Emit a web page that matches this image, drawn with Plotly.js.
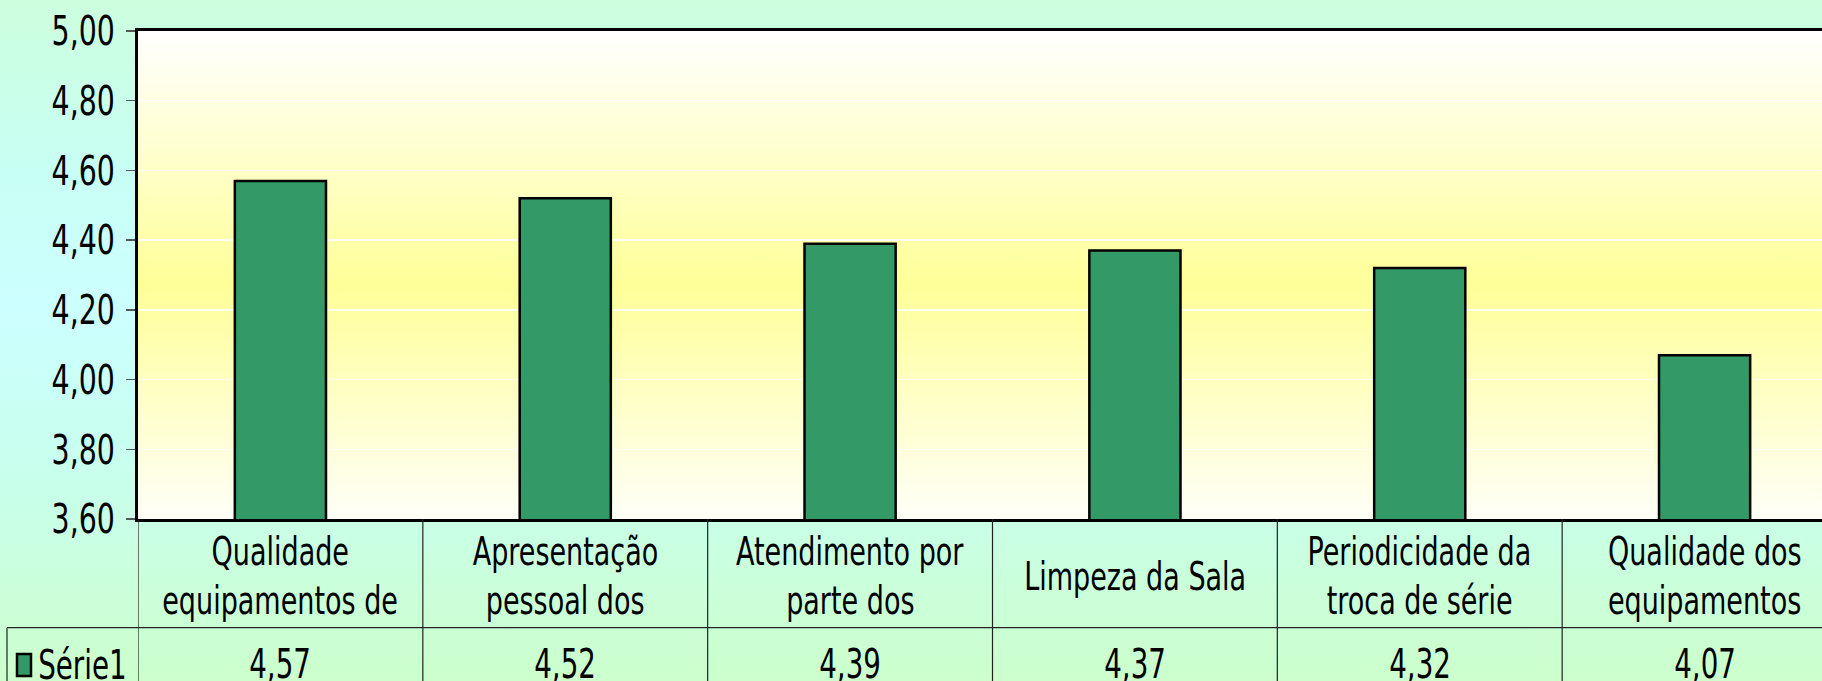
<!DOCTYPE html>
<html>
<head>
<meta charset="utf-8">
<script src="https://cdn.plot.ly/plotly-3.0.1.min.js"></script>
<style>
  html, body { margin: 0; padding: 0; overflow: hidden; width: 1822px; height: 681px; }
  #chart {
    width: 1849px; height: 681px;
    background: linear-gradient(to bottom, #CCFFDD 0%, #C8FFF4 25%, #CCFFFF 45%, #C8FFEC 70%, #CCFFCC 100%);
  }
</style>
</head>
<body>
<div id="chart"></div>
<script>
// ---- data ----
const seriesName = "Série1";
const categories = [
  "Qualidade<br>equipamentos de",
  "Apresentação<br>pessoal dos",
  "Atendimento por<br>parte dos",
  "Limpeza da Sala",
  "Periodicidade da<br>troca de série",
  "Qualidade dos<br>equipamentos"
];
const values = [4.57, 4.52, 4.39, 4.37, 4.32, 4.07];
const yTickVals = [3.6, 3.8, 4.0, 4.2, 4.4, 4.6, 4.8, 5.0];

// ---- layout geometry (pixels) ----
const W = 1849, H = 681;
const M = {l: 138, r: 2, t: 31, b: 162};
const PW = W - M.l - M.r, PH = H - M.t - M.b;
const plotBottom = H - M.b;
const py = p => (plotBottom - p) / PH;   // pixel y -> paper y
const px = p => (p - M.l) / PW;          // pixel x -> paper x

const FONT = "'DejaVu Sans Condensed', 'DejaVu Sans', sans-serif";
const TEXT_SCALE_X = 0.77;
const xIdx = categories.map((c, i) => i);

const trace = {
  type: 'bar',
  name: seriesName,
  x: xIdx,
  y: values,
  width: 0.32,
  marker: {color: '#339966', line: {color: '#000000', width: 2.5}},
  hoverinfo: 'skip'
};

const annotations = [];
const shapes = [];
const rowTop = plotBottom, rowMid = 627.7, catCenter = 576, lineGap = 48.3, valCenter = 664;

categories.forEach((c, i) => {
  const lines = c.split('<br>');
  lines.forEach((ln, j) => {
    const yc = catCenter + (j - (lines.length - 1) / 2) * lineGap;
    annotations.push({
      x: i, xref: 'x', y: py(yc), yref: 'paper',
      text: ln, showarrow: false, xanchor: 'center', yanchor: 'middle',
      font: {family: FONT, size: 39, color: '#000'}
    });
  });
  annotations.push({
    x: i, xref: 'x', y: py(valCenter), yref: 'paper',
    text: values[i].toFixed(2).replace('.', ','), showarrow: false,
    xanchor: 'center', yanchor: 'middle',
    font: {family: FONT, size: 40, color: '#000'}
  });
});

// legend label cell
annotations.push({
  x: px(82), xref: 'paper', y: py(665), yref: 'paper',
  text: seriesName, showarrow: false, xanchor: 'center', yanchor: 'middle',
  font: {family: FONT, size: 40, color: '#000'}
});
shapes.push({
  type: 'rect', xref: 'paper', yref: 'paper',
  x0: px(17), x1: px(31), y0: py(676), y1: py(654),
  fillcolor: '#339966', line: {color: '#000', width: 2.5}
});

// table lines
const lineStyle = {color: '#222', width: 1.2};
for (let k = 0; k <= categories.length; k++) {
  shapes.push({
    type: 'line', xref: 'x', yref: 'paper',
    x0: k - 0.5, x1: k - 0.5, y0: py(rowTop), y1: py(700),
    line: lineStyle
  });
}
shapes.push({
  type: 'line', xref: 'paper', yref: 'paper',
  x0: px(7), x1: 1.01, y0: py(rowMid), y1: py(rowMid), line: lineStyle
});
shapes.push({
  type: 'line', xref: 'paper', yref: 'paper',
  x0: px(7), x1: px(7), y0: py(rowMid), y1: py(700), line: lineStyle
});

// plot area gradient
const svgGrad = '<svg xmlns="http://www.w3.org/2000/svg" width="10" height="100" preserveAspectRatio="none">' +
  '<defs><linearGradient id="g" x1="0" y1="0" x2="0" y2="1">' +
  '<stop offset="0" stop-color="#FFFFFF"/><stop offset="0.52" stop-color="#FFFF99"/><stop offset="1" stop-color="#FFFFF8"/>' +
  '</linearGradient></defs><rect width="10" height="100" fill="url(#g)"/></svg>';

const layout = {
  width: W, height: H,
  margin: M,
  paper_bgcolor: 'rgba(0,0,0,0)',
  plot_bgcolor: 'rgba(0,0,0,0)',
  separators: ',.',
  showlegend: false,
  bargap: 0,
  xaxis: {
    range: [-0.5, categories.length - 0.5],
    showticklabels: false, ticks: '',
    showgrid: false, zeroline: false,
    showline: true, linecolor: '#000', linewidth: 3, mirror: true,
    fixedrange: true
  },
  yaxis: {
    range: [3.6, 5.0],
    tickvals: yTickVals, tickformat: '.2f',
    ticks: 'outside', ticklen: 9, tickwidth: 1.5, tickcolor: '#555',
    ticklabelstandoff: 3,
    tickfont: {family: FONT, size: 41, color: '#000'},
    showgrid: true, gridcolor: 'rgba(255,255,255,0.85)', gridwidth: 1.5,
    zeroline: false,
    showline: true, linecolor: '#000', linewidth: 3,
    fixedrange: true
  },
  images: [{
    source: 'data:image/svg+xml;charset=utf-8,' + encodeURIComponent(svgGrad),
    xref: 'paper', yref: 'paper', x: 0, y: 1, sizex: 1, sizey: 1,
    xanchor: 'left', yanchor: 'top', sizing: 'stretch', layer: 'below'
  }],
  annotations: annotations,
  shapes: shapes
};

// narrow the text horizontally around its anchor point (style only)
function condenseText(gd) {
  gd.querySelectorAll('.ytick text, text.annotation-text').forEach(t => {
    const ax = parseFloat(t.getAttribute('x')) || 0;
    const prev = t.getAttribute('transform') || '';
    t.setAttribute('transform', prev + ' translate(' + ax + ',0) scale(' + TEXT_SCALE_X + ',1) translate(' + (-ax) + ',0)');
  });
}

Plotly.newPlot('chart', [trace], layout, {displayModeBar: false, staticPlot: true})
  .then(gd => condenseText(gd));
</script>
</body>
</html>
